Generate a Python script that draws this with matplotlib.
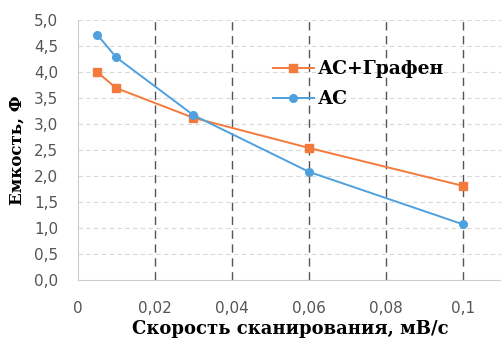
import matplotlib
matplotlib.use('Agg')
import matplotlib.pyplot as plt
from matplotlib.ticker import FuncFormatter

# data
speed = [0.005, 0.01, 0.03, 0.06, 0.1]
ac_graphene = [4.0, 3.69, 3.12, 2.54, 1.81]
ac = [4.72, 4.28, 3.17, 2.08, 1.07]

xticks = [0, 0.02, 0.04, 0.06, 0.08, 0.1]
xtick_labels = ['0', '0,02', '0,04', '0,06', '0,08', '0,1']

fig = plt.figure(figsize=(5.02, 3.45), dpi=100)
ax = fig.add_axes([0.155, 0.188, 0.845, 0.754])

# grid: light horizontal, dark dashed vertical
for yv in [0.5 * i for i in range(1, 11)]:
    ax.axhline(yv, color='#d9d9d9', lw=0.8, ls=(0, (4, 3)), zorder=0)
for xv in xticks[1:]:
    ax.axvline(xv, color='#555555', lw=1.0, ls=(0, (6, 4)), zorder=0)

ax.plot(speed, ac_graphene, color='#f47a3c', marker='s', ms=5.5, lw=1.4,
        label='АС+Графен', zorder=3)
ax.plot(speed, ac, color='#4fa0de', marker='o', ms=5.5, lw=1.4,
        label='АС', zorder=3)

ax.set_xlim(0, 0.11)
ax.set_ylim(0, 5.0)
ax.set_xticks(xticks)
ax.set_xticklabels(xtick_labels)
ax.set_yticks([0.5 * i for i in range(11)])
ax.yaxis.set_major_formatter(FuncFormatter(lambda v, p: f'{v:.1f}'.replace('.', ',')))
ax.tick_params(axis='both', length=0, labelsize=11, colors='#555555')
ax.tick_params(axis='x', pad=15)
ax.tick_params(axis='y', pad=14)

for s in ['top', 'right']:
    ax.spines[s].set_visible(False)
for s in ['left', 'bottom']:
    ax.spines[s].set_color('#cccccc')
    ax.spines[s].set_linewidth(0.8)

ax.set_xlabel('Скорость сканирования, мВ/с', fontsize=13, fontweight='bold',
              family='DejaVu Serif', labelpad=3)
ax.set_ylabel('Емкость, Ф', fontsize=12, fontweight='bold',
              family='DejaVu Serif', labelpad=6)

leg = ax.legend(loc='upper left', bbox_to_anchor=(0.42, 0.91), frameon=False,
                prop={'family': 'DejaVu Serif', 'weight': 'bold', 'size': 13.5},
                handlelength=2.2, handletextpad=0.2, labelspacing=0.65)

fig.savefig('out.png', dpi=100)
